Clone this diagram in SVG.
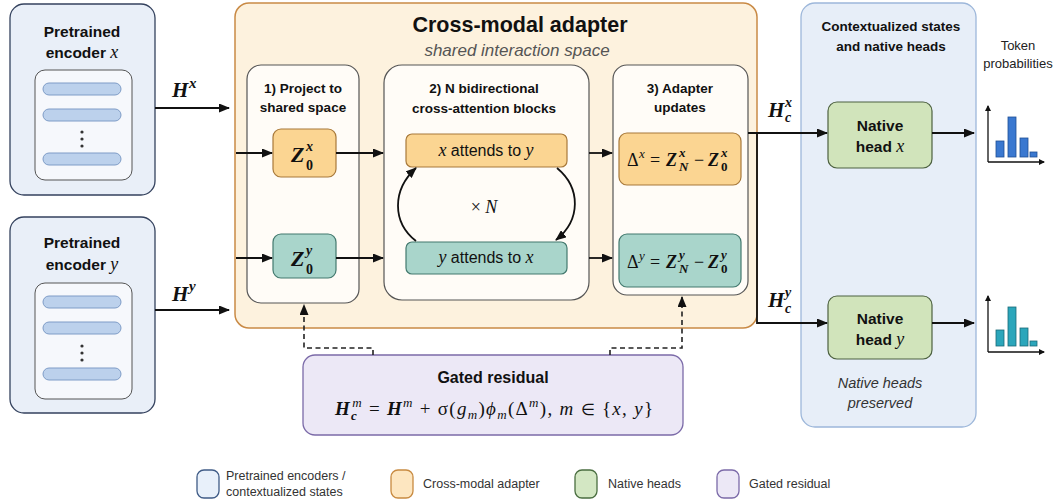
<svg xmlns="http://www.w3.org/2000/svg" width="1057" height="504" viewBox="0 0 1057 504">
<defs>
<marker id="ah" markerUnits="userSpaceOnUse" markerWidth="11" markerHeight="9" refX="10" refY="4.5" orient="auto"><path d="M0,0 L11,4.5 L0,9 z" fill="#111"/></marker>
<marker id="ahs" markerUnits="userSpaceOnUse" markerWidth="6" markerHeight="6" refX="5" refY="3" orient="auto"><path d="M0,0 L6,3 L0,6 z" fill="#111"/></marker>
<style>
.sans{font-family:"Liberation Sans",Arial,sans-serif}
.b{font-weight:bold}
.t15{font-family:"Liberation Sans",Arial,sans-serif;font-weight:bold;font-size:15.5px;fill:#111;text-anchor:middle}
.t13{font-family:"Liberation Sans",Arial,sans-serif;font-weight:bold;font-size:13.5px;fill:#111;text-anchor:middle}
.m{font-family:"Liberation Serif","Times New Roman",serif;fill:#111}
.mi{font-family:"Liberation Serif","Times New Roman",serif;font-style:italic;fill:#111}
.mb{font-family:"Liberation Serif","Times New Roman",serif;font-style:italic;font-weight:bold;fill:#111}
.mbu{font-family:"Liberation Serif","Times New Roman",serif;font-weight:bold;fill:#111}
.enc{fill:#e9eff8;stroke:#34425e;stroke-width:1.3}
.inner{fill:#f6f8fc;stroke:#555;stroke-width:1}
.bar{fill:#bcd1ec;stroke:#7e9cc7;stroke-width:1}
.sub{fill:#fffcf7;stroke:#555;stroke-width:1.2}
.or{fill:#fbd592;stroke:#a8793a;stroke-width:1.2}
.te{fill:#a9d5cb;stroke:#43796e;stroke-width:1.2}
.gr{fill:#d1e4bb;stroke:#4d6140;stroke-width:1.2}
.ln{fill:none;stroke:#111;stroke-width:1.8}
.dash{fill:none;stroke:#222;stroke-width:1.6;stroke-dasharray:5 3.5}
.leg{font-family:"Liberation Sans",Arial,sans-serif;font-size:12.5px;fill:#333}
</style>
</defs>
<rect width="1057" height="504" fill="#ffffff"/>

<g id="encoder-x">
<rect class="enc" x="10" y="4" width="145" height="191" rx="14"/>
<text class="t15" x="82" y="37">Pretrained</text>
<text class="t15" x="82" y="58">encoder <tspan class="mi" font-weight="normal" font-size="18">x</tspan></text>
<rect class="inner" x="35" y="70" width="97" height="110" rx="10"/>
<rect class="bar" x="43" y="83" width="78" height="12" rx="6"/>
<rect class="bar" x="43" y="109" width="78" height="12" rx="6"/>
<circle cx="82" cy="132" r="1.6" fill="#333"/><circle cx="82" cy="139" r="1.6" fill="#333"/><circle cx="82" cy="146" r="1.6" fill="#333"/>
<rect class="bar" x="43" y="153" width="78" height="12" rx="6"/>
</g>

<g id="encoder-y">
<rect class="enc" x="10" y="217" width="145" height="196" rx="14"/>
<text class="t15" x="82" y="248">Pretrained</text>
<text class="t15" x="82" y="270">encoder <tspan class="mi" font-weight="normal" font-size="18">y</tspan></text>
<rect class="inner" x="35" y="283" width="97" height="116" rx="10"/>
<rect class="bar" x="43" y="296" width="78" height="12" rx="6"/>
<rect class="bar" x="43" y="322" width="78" height="12" rx="6"/>
<circle cx="82" cy="346" r="1.6" fill="#333"/><circle cx="82" cy="353" r="1.6" fill="#333"/><circle cx="82" cy="360" r="1.6" fill="#333"/>
<rect class="bar" x="43" y="368" width="78" height="12" rx="6"/>
</g>

<g id="adapter">
<rect x="235" y="3" width="522" height="325" rx="14" fill="#fdf2de" stroke="#c98a45" stroke-width="1.5"/>
<text class="sans b" x="520" y="32" font-size="21.5" text-anchor="middle" fill="#111">Cross-modal adapter</text>
<text class="sans" x="517" y="56" font-size="17" font-style="italic" text-anchor="middle" fill="#555">shared interaction space</text>
</g>

<g id="project">
<rect class="sub" x="247" y="65" width="112" height="238" rx="14"/>
<text class="t13" x="303" y="93">1) Project to</text>
<text class="t13" x="303" y="112">shared space</text>
</g>

<g id="z0x">
<rect class="or" x="273" y="129" width="63" height="48" rx="8"/>
<text class="mb" x="291" y="162" font-size="22">Z</text>
<text class="mb" x="306" y="151" font-size="14">x</text>
<text class="mbu" x="306" y="170" font-size="14">0</text>
</g>

<g id="z0y">
<rect class="te" x="273" y="234" width="63" height="44" rx="8"/>
<text class="mb" x="291" y="266" font-size="22">Z</text>
<text class="mb" x="306" y="255" font-size="14">y</text>
<text class="mbu" x="306" y="274" font-size="14">0</text>
</g>

<g id="cross-attention">
<rect class="sub" x="384" y="65" width="205" height="235" rx="18"/>
<text class="t13" x="484" y="93">2) N bidirectional</text>
<text class="t13" x="484" y="113">cross-attention blocks</text>
</g>

<g id="x-attends">
<rect class="or" x="406" y="134" width="161" height="33" rx="6"/>
<text class="sans" x="486" y="156" font-size="16" text-anchor="middle" fill="#111"><tspan class="mi" font-size="18">x</tspan> attends to <tspan class="mi" font-size="18">y</tspan></text>
</g>

<g id="y-attends">
<rect class="te" x="406" y="242" width="161" height="32" rx="6"/>
<text class="sans" x="486" y="263" font-size="16" text-anchor="middle" fill="#111"><tspan class="mi" font-size="18">y</tspan> attends to <tspan class="mi" font-size="18">x</tspan></text>
</g>

<text class="m" x="484" y="213" font-size="18" text-anchor="middle">× <tspan class="mi">N</tspan></text>

<g id="updates">
<rect class="sub" x="613" y="65" width="135" height="230" rx="14"/>
<text class="t13" x="680" y="93">3) Adapter</text>
<text class="t13" x="680" y="112">updates</text>
</g>

<g id="delta-x">
<rect class="or" x="619" y="133" width="122" height="52" rx="8"/>
<text class="m" x="627" y="166" font-size="18">Δ</text>
<text class="mi" x="639" y="158" font-size="13">x</text>
<text class="m" x="650" y="166" font-size="18">=</text>
<text class="mb" x="666" y="166" font-size="18">Z</text>
<text class="mb" x="679" y="157" font-size="13">x</text>
<text class="mb" x="679" y="171" font-size="13">N</text>
<text class="m" x="694" y="166" font-size="18">−</text>
<text class="mb" x="708" y="166" font-size="18">Z</text>
<text class="mb" x="721" y="157" font-size="13">x</text>
<text class="mbu" x="721" y="171" font-size="13">0</text>
</g>

<g id="delta-y">
<rect class="te" x="619" y="234" width="122" height="53" rx="8"/>
<text class="m" x="627" y="268" font-size="18">Δ</text>
<text class="mi" x="639" y="260" font-size="13">y</text>
<text class="m" x="650" y="268" font-size="18">=</text>
<text class="mb" x="666" y="268" font-size="18">Z</text>
<text class="mb" x="679" y="259" font-size="13">y</text>
<text class="mb" x="679" y="273" font-size="13">N</text>
<text class="m" x="694" y="268" font-size="18">−</text>
<text class="mb" x="708" y="268" font-size="18">Z</text>
<text class="mb" x="721" y="259" font-size="13">y</text>
<text class="mbu" x="721" y="273" font-size="13">0</text>
</g>

<g id="heads-panel">
<rect x="801" y="3" width="175" height="424" rx="14" fill="#e7eef8" stroke="#9db7da" stroke-width="1.3"/>
<text class="t13" x="891" y="31" font-size="14">Contextualized states</text>
<text class="t13" x="891" y="51" font-size="14">and native heads</text>
<text class="sans" x="880" y="388" font-size="14.5" font-style="italic" text-anchor="middle" fill="#333">Native heads</text>
<text class="sans" x="880" y="408" font-size="14.5" font-style="italic" text-anchor="middle" fill="#333">preserved</text>
</g>

<g id="native-head-x">
<rect class="gr" x="828" y="102" width="104" height="66" rx="9"/>
<text class="t15" x="880" y="131">Native</text>
<text class="t15" x="880" y="152">head <tspan class="mi" font-weight="normal" font-size="18">x</tspan></text>
</g>

<g id="native-head-y">
<rect class="gr" x="828" y="296" width="104" height="63" rx="9"/>
<text class="t15" x="880" y="324">Native</text>
<text class="t15" x="880" y="345">head <tspan class="mi" font-weight="normal" font-size="18">y</tspan></text>
</g>

<g id="token-probabilities">
<text class="sans" x="1018" y="50" font-size="13" text-anchor="middle" fill="#222">Token</text>
<text class="sans" x="1018" y="68" font-size="13" text-anchor="middle" fill="#222">probabilities</text>
<path d="M988 162 V106" stroke="#111" stroke-width="1.3" fill="none" marker-end="url(#ahs)"/>
<path d="M988 162 H1044" stroke="#111" stroke-width="1.3" fill="none" marker-end="url(#ahs)"/>
<rect x="996" y="141" width="8" height="16" fill="#3a78d0" stroke="#1f4f95" stroke-width="0.8"/>
<rect x="1008" y="117" width="8" height="40" fill="#3a78d0" stroke="#1f4f95" stroke-width="0.8"/>
<rect x="1020" y="138" width="8" height="19" fill="#3a78d0" stroke="#1f4f95" stroke-width="0.8"/>
<rect x="1030" y="152" width="7" height="5" fill="#3a78d0" stroke="#1f4f95" stroke-width="0.8"/>
<path d="M988 352 V296" stroke="#111" stroke-width="1.3" fill="none" marker-end="url(#ahs)"/>
<path d="M988 352 H1044" stroke="#111" stroke-width="1.3" fill="none" marker-end="url(#ahs)"/>
<rect x="996" y="330" width="8" height="16" fill="#2ba6bb" stroke="#1a6a78" stroke-width="0.8"/>
<rect x="1008" y="307" width="8" height="39" fill="#2ba6bb" stroke="#1a6a78" stroke-width="0.8"/>
<rect x="1020" y="328" width="8" height="18" fill="#2ba6bb" stroke="#1a6a78" stroke-width="0.8"/>
<rect x="1030" y="341" width="7" height="5" fill="#2ba6bb" stroke="#1a6a78" stroke-width="0.8"/>
</g>

<g id="gated-residual">
<rect x="303" y="355" width="380" height="80" rx="12" fill="#ece8f6" stroke="#7b6aa8" stroke-width="1.3"/>
<text class="sans b" x="493" y="383" font-size="16" text-anchor="middle" fill="#111">Gated residual</text>
<text class="m" x="335" y="415" font-size="19" textLength="318" lengthAdjust="spacing"><tspan class="mb">H</tspan><tspan class="mb" font-size="13" dy="5">c</tspan><tspan class="mi" font-size="13" dx="-6" dy="-13">m</tspan><tspan dy="8"> = </tspan><tspan class="mb">H</tspan><tspan class="mi" font-size="13" dy="-8">m</tspan><tspan dy="8"> + σ(</tspan><tspan class="mi">g</tspan><tspan class="mi" font-size="13" dy="4">m</tspan><tspan dy="-4">)</tspan><tspan class="mi">ϕ</tspan><tspan class="mi" font-size="13" dy="4">m</tspan><tspan dy="-4">(Δ</tspan><tspan class="mi" font-size="13" dy="-8">m</tspan><tspan dy="8">), </tspan><tspan class="mi">m</tspan> <tspan font-size="16">∈</tspan> {<tspan class="mi">x</tspan>, <tspan class="mi">y</tspan>}</text>
</g>

<g id="labels">
<text class="mb" x="172" y="97" font-size="21">H</text>
<text class="mb" x="189" y="88" font-size="15">x</text>
<text class="mb" x="172" y="301" font-size="21">H</text>
<text class="mb" x="189" y="291" font-size="15">y</text>
<text class="mb" x="768" y="117" font-size="21">H</text>
<text class="mb" x="785" y="107" font-size="14">x</text>
<text class="mb" x="785" y="122" font-size="14">c</text>
<text class="mb" x="768" y="307" font-size="21">H</text>
<text class="mb" x="785" y="297" font-size="14">y</text>
<text class="mb" x="785" y="313" font-size="14">c</text>
</g>

<g id="connectors">
<path class="ln" d="M155 108 H229" marker-end="url(#ah)"/>
<path class="ln" d="M155 310 H229" marker-end="url(#ah)"/>
<path class="ln" d="M236 153 H272" marker-end="url(#ah)"/>
<path class="ln" d="M236 258 H272" marker-end="url(#ah)"/>
<path class="ln" d="M336 153 H383" marker-end="url(#ah)"/>
<path class="ln" d="M336 258 H383" marker-end="url(#ah)"/>
<path class="ln" d="M589 153 H612" marker-end="url(#ah)"/>
<path class="ln" d="M589 258 H612" marker-end="url(#ah)"/>
<path class="ln" d="M748 133 H827" marker-end="url(#ah)"/>
<path class="ln" d="M757 133 V323 H827" marker-end="url(#ah)"/>
<path class="ln" d="M932 133 H974" marker-end="url(#ah)"/>
<path class="ln" d="M932 323 H974" marker-end="url(#ah)"/>
<path class="ln" d="M416 241 C392 222 392 190 416 168" marker-end="url(#ah)"/>
<path class="ln" d="M557 168 C581 188 581 220 556 240" marker-end="url(#ah)"/>
<path class="dash" d="M373 355 V348 H304 V305" marker-end="url(#ah)"/>
<path class="dash" d="M610 355 V348 H682 V297" marker-end="url(#ah)"/>
</g>

<g id="legend">
<rect x="197" y="470" width="22" height="28" rx="7" fill="#e8f0fa" stroke="#3f5b86" stroke-width="1.3"/>
<text class="leg" x="226" y="480">Pretrained encoders /</text>
<text class="leg" x="226" y="496">contextualized states</text>
<rect x="391" y="470" width="22" height="28" rx="7" fill="#fde6c0" stroke="#c88a40" stroke-width="1.3"/>
<text class="leg" x="423" y="488">Cross-modal adapter</text>
<rect x="575" y="470" width="22" height="28" rx="7" fill="#d3e7c3" stroke="#4a6e40" stroke-width="1.3"/>
<text class="leg" x="608" y="488">Native heads</text>
<rect x="717" y="470" width="22" height="28" rx="7" fill="#ece8f6" stroke="#7b6aa8" stroke-width="1.3"/>
<text class="leg" x="749" y="488">Gated residual</text>
</g>
</svg>
